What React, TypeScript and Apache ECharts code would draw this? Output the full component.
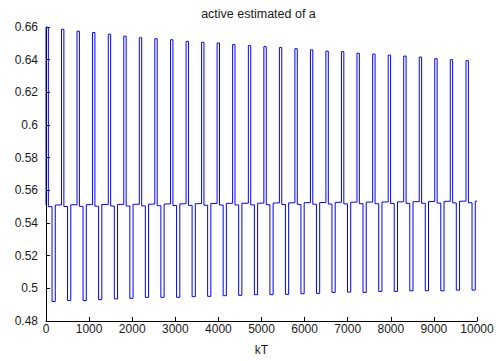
import React, { useEffect, useRef } from "react";
import * as echarts from "echarts";

// ---- data ----
const upStart = [0, 360, 720, 1080, 1445, 1805, 2165, 2525, 2890, 3250, 3610, 3970, 4330, 4695, 5055, 5415, 5775, 6135, 6495, 6855, 7215, 7580, 7940, 8300, 8660, 9020, 9380, 9745];
const peakValues = [0.6598, 0.6586, 0.6574, 0.6566, 0.6556, 0.6544, 0.6534, 0.6528, 0.6522, 0.6512, 0.6506, 0.6502, 0.6492, 0.6486, 0.648, 0.6474, 0.6467, 0.646, 0.6452, 0.6449, 0.6439, 0.6434, 0.6428, 0.6422, 0.6416, 0.6406, 0.64, 0.6394];
const downStart = [140, 500, 860, 1220, 1585, 1945, 2305, 2665, 3030, 3390, 3750, 4110, 4470, 4835, 5195, 5555, 5915, 6275, 6635, 6995, 7355, 7720, 8080, 8440, 8800, 9160, 9520, 9885];
const troughValues = [0.4919, 0.4925, 0.4925, 0.4931, 0.4935, 0.4939, 0.4945, 0.4945, 0.4945, 0.4949, 0.4951, 0.4955, 0.4957, 0.4961, 0.4961, 0.4963, 0.4967, 0.4969, 0.4975, 0.4977, 0.4975, 0.4981, 0.4981, 0.4985, 0.4985, 0.4985, 0.4989, 0.4989];
const baseValues = [0.551, 0.5511, 0.5512, 0.5513, 0.5514, 0.5514, 0.5515, 0.5516, 0.5517, 0.5518, 0.5519, 0.552, 0.5521, 0.5521, 0.5522, 0.5523, 0.5524, 0.5525, 0.5526, 0.5527, 0.5528, 0.5528, 0.5529, 0.553, 0.5531, 0.5532, 0.5533, 0.5534];
const upWidth = 55;
const downWidth = 75;
const midDip = 0.001;
const xEnd = 10000;
const xTicks = [0, 1000, 2000, 3000, 4000, 5000, 6000, 7000, 8000, 9000, 10000];
const yTicks = [0.48, 0.5, 0.52, 0.54, 0.56, 0.58, 0.6, 0.62, 0.64, 0.66];

function buildPoints(): number[][] {
  const pts: number[][] = [];
  for (let k = 0; k < upStart.length; k++) {
    const b = baseValues[k];
    const m = b - midDip;
    pts.push([upStart[k], b]);
    pts.push([upStart[k], peakValues[k]]);
    pts.push([upStart[k] + upWidth, peakValues[k]]);
    pts.push([upStart[k] + upWidth, m]);
    pts.push([downStart[k], m]);
    pts.push([downStart[k], troughValues[k]]);
    pts.push([downStart[k] + downWidth, troughValues[k]]);
    pts.push([downStart[k] + downWidth, b]);
  }
  pts.push([xEnd, baseValues[baseValues.length - 1]]);
  return pts;
}

const FONT = "'Liberation Sans', Arial, Helvetica, sans-serif";

export default function App() {
  const ref = useRef<HTMLDivElement>(null);
  useEffect(() => {
    if (!ref.current) return;
    const chart = echarts.init(ref.current, null, { renderer: "svg" });
    chart.setOption({
      animation: false,
      backgroundColor: "#ffffff",
      grid: { left: 46, right: 22, top: 27, bottom: 32, containLabel: false },
      graphic: [
        {
          type: "text",
          x: 258.5,
          y: 14,
          style: {
            text: "active estimated of a",
            align: "center",
            verticalAlign: "middle",
            fontSize: 12.5,
            fontFamily: FONT,
            fill: "#1a1a1a",
          },
        },
      ],
      xAxis: {
        type: "value",
        min: xTicks[0],
        max: xTicks[xTicks.length - 1],
        interval: 1000,
        name: "kT",
        nameLocation: "middle",
        nameGap: 23,
        nameTextStyle: { fontSize: 12, fontFamily: FONT, color: "#1a1a1a" },
        axisLine: { show: true, lineStyle: { color: "#000", width: 1 } },
        axisTick: { show: true, inside: true, length: 4, lineStyle: { color: "#000" } },
        axisLabel: {
          fontSize: 12,
          fontFamily: FONT,
          color: "#1a1a1a",
          margin: 2,
          formatter: (v: number) => String(Math.round(v)),
        },
        splitLine: { show: false },
      },
      yAxis: {
        type: "value",
        min: yTicks[0],
        max: yTicks[yTicks.length - 1],
        interval: 0.02,
        axisLine: { show: true, lineStyle: { color: "#000", width: 1 } },
        axisTick: { show: true, inside: true, length: 4, lineStyle: { color: "#000" } },
        axisLabel: {
          fontSize: 12,
          fontFamily: FONT,
          color: "#1a1a1a",
          margin: 8,
          formatter: (v: number) => String(parseFloat(v.toFixed(2))),
        },
        splitLine: { show: false },
      },
      series: [
        {
          type: "line",
          data: buildPoints(),
          showSymbol: false,
          symbol: "none",
          lineStyle: { color: "#0000ff", width: 1 },
          itemStyle: { color: "#0000ff" },
        },
      ],
    });
    return () => chart.dispose();
  }, []);
  return (
    <div style={{ position: "fixed", left: 0, top: 0, width: 499, height: 361, background: "#fff" }}>
      <div ref={ref} style={{ width: 499, height: 361 }} />
    </div>
  );
}
